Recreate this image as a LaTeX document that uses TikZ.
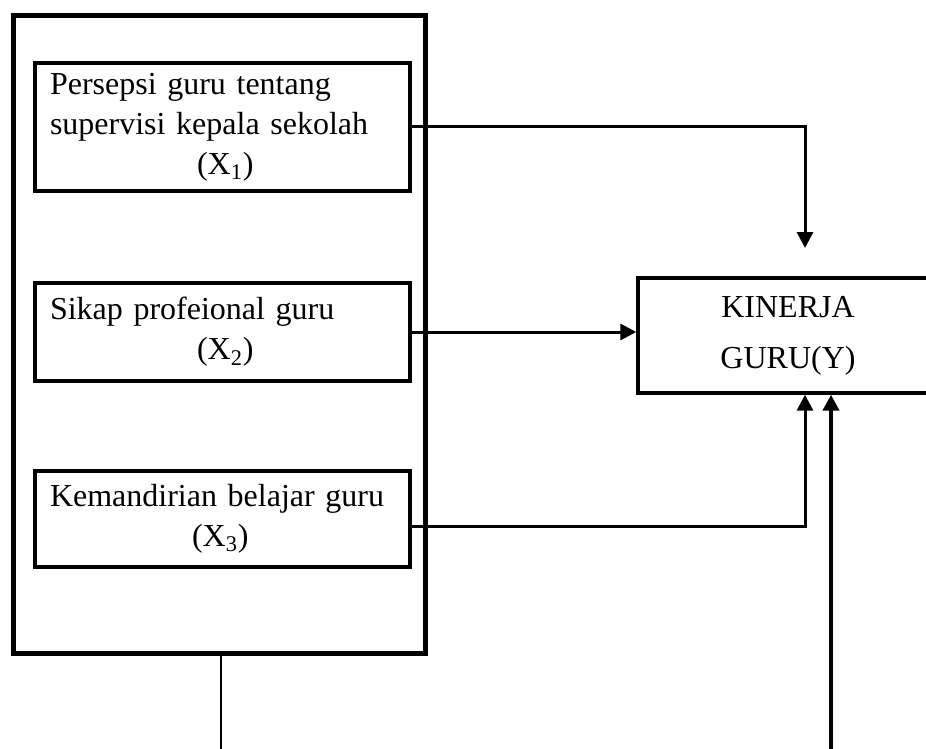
\documentclass[tikz,border=0pt]{standalone}
\usepackage{fontspec}
\setmainfont{Liberation Serif}
\usetikzlibrary{positioning, arrows.meta, calc}

\begin{document}
\begin{tikzpicture}[x=0.5pt, y=-0.5pt,
    varbox/.style={draw, line width=1.7pt, minimum width=187.5pt, text width=172.5pt,
        inner xsep=7.5pt, align=left, font=\fontsize{16}{20}\selectfont},
    link/.style={line width=1.5pt, -{Triangle[length=8pt, width=8pt]}}]
        \useasboundingbox (0,0) rectangle (926,749);

        % Outer frame
        \node[draw, line width=2.5pt, minimum width=206pt, minimum height=318.5pt] (frame) at (219,334.5) {};

        % Variables X
        \node[varbox, minimum height=64pt] (box1) at (222.5,127)
            {Persepsi guru tentang\\supervisi kepala sekolah\\\hspace*{73.5pt}(X\textsubscript{1})};
        \node[varbox, minimum height=49pt] (box2) at (222.5,332)
            {Sikap profeional guru\\\hspace*{73.5pt}(X\textsubscript{2})};
        \node[varbox, minimum height=48pt] (box3) at (222.5,519)
            {Kemandirian belajar guru\\\hspace*{71pt}(X\textsubscript{3})};

        % Variable Y
        \node[draw, line width=1.7pt, minimum width=150pt, minimum height=57.5pt, align=center,
            font=\fontsize{16}{25.5}\selectfont] (kin) at (788,335.5) {KINERJA\\GURU(Y)};

        % Free ends
        \coordinate (topend) at (805,248);
        \coordinate (leftfoot) at (221,749);
        \coordinate (rightfoot) at (831,749);

        % Arrows
        \draw[link] (box1.east) -| (topend);
        \draw[link] (box2.east) -- (box2.east -| kin.west);
        \draw[link] ([yshift=-3.5pt]box3.east) -| (topend |- kin.south);
        \draw[line width=1.1pt] (frame.south -| leftfoot) -- (leftfoot);
        \draw[link, line width=2.2pt] (rightfoot) -- (rightfoot |- kin.south);

    \end{tikzpicture}
\end{document}
